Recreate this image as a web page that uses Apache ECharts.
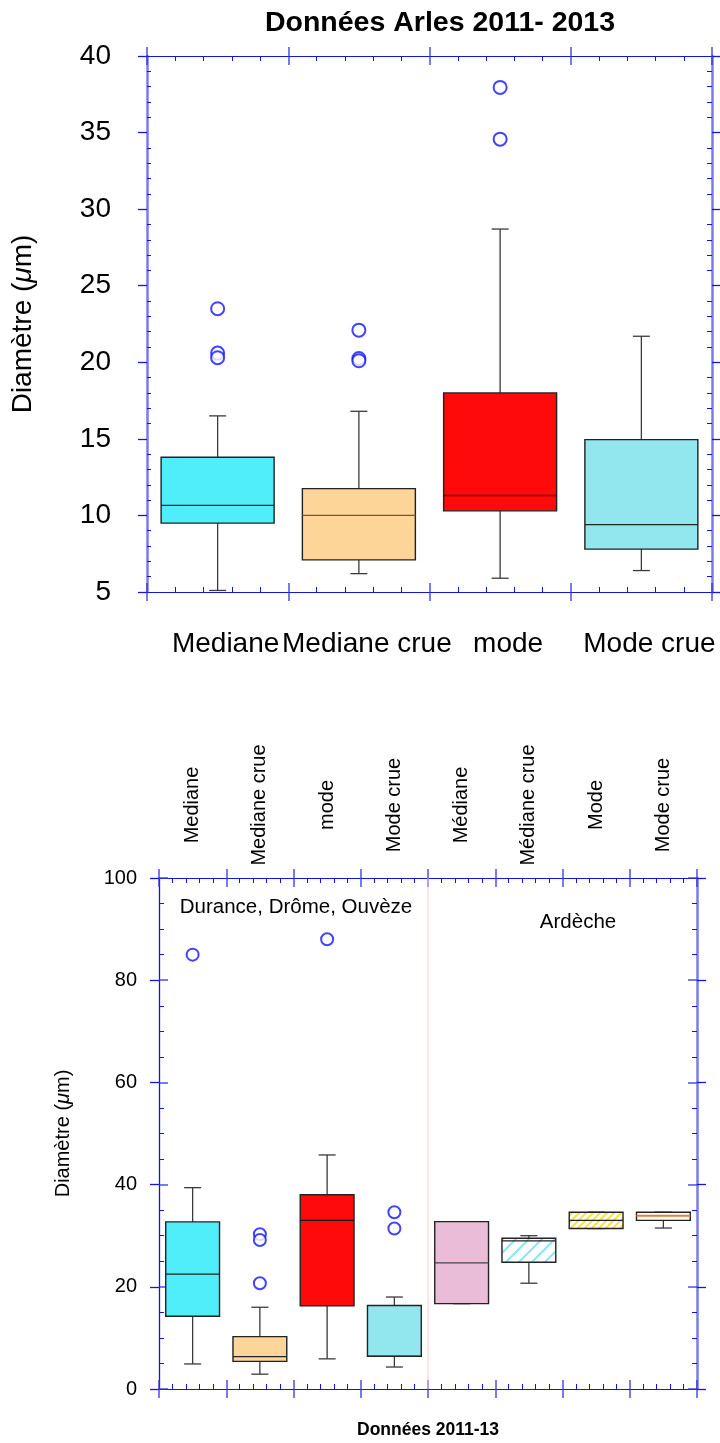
<!DOCTYPE html>
<html>
<head>
<meta charset="utf-8">
<script src="https://cdn.jsdelivr.net/npm/echarts@6/dist/echarts.min.js"></script>
<style>html,body{margin:0;padding:0;background:#fff}#c{width:720px;height:1443px}</style>
</head>
<body>
<div id="c"></div>
<script>
// ---------- data ----------
const topTitle = 'Données Arles 2011- 2013';
const topCategories = ['Mediane', 'Mediane crue', 'mode', 'Mode crue'];
const topMin    = [5.1, 6.2, 5.9, 6.4];
const topQ1     = [9.5, 7.1, 10.3, 7.8];
const topMedian = [10.65, 10.0, 11.3, 9.4];
const topQ3     = [13.8, 11.75, 18.0, 14.95];
const topMax    = [16.5, 16.8, 28.7, 21.7];
const topOutlierCat = [0, 0, 0, 1, 1, 1, 2, 2];
const topOutlierVal = [23.5, 20.6, 20.3, 22.1, 20.25, 20.1, 37.95, 34.57];
const topYTicks = [5, 40, 5]; // min, max, step

const botCategories = ['Mediane', 'Mediane crue', 'mode', 'Mode crue', 'Médiane', 'Médiane crue', 'Mode', 'Mode crue'];
const botMin    = [4.9, 2.9, 5.9, 4.3, 16.7, 20.7, 31.4, 31.5];
const botQ1     = [14.25, 5.4, 16.3, 6.4, 16.7, 24.8, 31.4, 33.0];
const botMedian = [22.5, 6.35, 33.0, 6.4, 24.7, 29.0, 33.0, 33.9];
const botQ3     = [32.7, 10.25, 38.0, 16.35, 32.75, 29.5, 34.6, 34.6];
const botMax    = [39.4, 16.0, 45.8, 18.0, 32.75, 30.0, 34.6, 34.6];
const botOutlierCat = [0, 1, 1, 1, 2, 3, 3];
const botOutlierVal = [85, 30.3, 29.15, 20.7, 88, 34.6, 31.4];
const botYTicks = [0, 100, 20];
const botGroups = ['Durance, Drôme, Ouvèze', 'Ardèche'];
const botXName = 'Données 2011-13';
const yName = 'Diamètre ({i|μ}m)';

// ---------- styles ----------
const FONT = "'Liberation Sans', Arial, Helvetica, sans-serif";
function hatch(color, bg, step, lw) {
  const c = document.createElement('canvas');
  c.width = step; c.height = step;
  const g = c.getContext('2d');
  g.fillStyle = bg; g.fillRect(0, 0, step, step);
  g.strokeStyle = color; g.lineWidth = lw;
  g.beginPath();
  g.moveTo(-1, step + 1); g.lineTo(step + 1, -1);
  g.moveTo(-1, 1); g.lineTo(1, -1);
  g.moveTo(step - 1, step + 1); g.lineTo(step + 1, step - 1);
  g.stroke();
  return { image: c, repeat: 'repeat' };
}
const topFill   = ['#50EEFB', '#FDD598', '#FF0A0A', '#92E6EE'];
const topMedCol = ['#222222', '#6e5a40', '#6a0000', '#222222'];
const botFill   = ['#50EEFB', '#FDD598', '#FF0A0A', '#92E6EE', '#EBBCD7',
                   hatch('#86E8F4', '#ffffff', 13, 2), hatch('#F2E642', '#ffffff', 7, 2), '#ffffff'];
const botMedCol = ['#222222', '#222222', '#111111', '#222222', '#444444', '#222222', '#222222', '#F07830'];

function boxData(mn, q1, md, q3, mx) {
  return mn.map((v, i) => [i, v, q1[i], md[i], q3[i], mx[i]]);
}
function makeRender(fills, medCols) {
  return function (params, api) {
    const i = params.dataIndex;
    const x = api.value(0);
    const pLo = api.coord([x, api.value(1)]);
    const pQ1 = api.coord([x, api.value(2)]);
    const pMd = api.coord([x, api.value(3)]);
    const pQ3 = api.coord([x, api.value(4)]);
    const pHi = api.coord([x, api.value(5)]);
    const band = api.size([1, 0])[0];
    const w = band * 0.8, cx = pMd[0], cap = 8.5;
    const wh = { stroke: '#3a3a3a', lineWidth: 1.3 };
    return {
      type: 'group',
      children: [
        { type: 'line', shape: { x1: cx, y1: pQ3[1], x2: cx, y2: pHi[1] }, style: wh },
        { type: 'line', shape: { x1: cx, y1: pQ1[1], x2: cx, y2: pLo[1] }, style: wh },
        { type: 'line', shape: { x1: cx - cap, y1: pHi[1], x2: cx + cap, y2: pHi[1] }, style: wh },
        { type: 'line', shape: { x1: cx - cap, y1: pLo[1], x2: cx + cap, y2: pLo[1] }, style: wh },
        { type: 'rect', shape: { x: cx - w / 2, y: pQ3[1], width: w, height: pQ1[1] - pQ3[1] },
          style: { fill: fills[i], stroke: '#222', lineWidth: 1.4 } },
        { type: 'line', shape: { x1: cx - w / 2, y1: pMd[1], x2: cx + w / 2, y2: pMd[1] },
          style: { stroke: medCols[i], lineWidth: i === 7 && fills.length === 8 ? 2 : 1.3 } }
      ]
    };
  };
}

const AX = '#1414e0';
const AXL = 'rgba(50,50,225,0.65)';
function tickAxis(extra) {
  return Object.assign({
    type: 'value', axisLabel: { show: false }, splitLine: { show: false },
    axisLine: { show: true, onZero: false, lineStyle: { color: AX, width: 1.2 } },
    axisTick: { show: true, length: 9, lineStyle: { color: AXL, width: 2 } },
    minorTick: { show: true, splitNumber: 5, length: -5, lineStyle: { color: AX, width: 1 } }
  }, extra);
}
// extra axes that only draw the inner half of the major ticks (ticks cross the axis line)
function innerTickAxis(extra, color, width) {
  return Object.assign({
    type: 'value', axisLabel: { show: false }, splitLine: { show: false },
    axisLine: { show: false, onZero: false },
    axisTick: { show: true, inside: true, length: 9, lineStyle: { color: color, width: width } },
    minorTick: { show: false }
  }, extra);
}

const option = {
  animation: false,
  textStyle: { fontFamily: FONT },
  title: {
    text: topTitle, left: 435, top: 4, textAlign: 'center',
    textStyle: { fontFamily: FONT, fontWeight: 'bold', fontSize: 28.5, color: '#000' }
  },
  grid: [
    { left: 147, right: 8, top: 56, bottom: 851, containLabel: false },
    { left: 159, right: 23, top: 878, bottom: 54, containLabel: false }
  ],
  xAxis: [
    { type: 'category', gridIndex: 0, position: 'bottom', data: topCategories,
      axisLine: { show: false, onZero: false }, axisTick: { show: false },
      axisLabel: { fontSize: 28, color: '#000', margin: 38, fontFamily: FONT, interval: 0,
                   padding: [0, 0, 0, 16] } },
    tickAxis({ gridIndex: 0, position: 'bottom', min: 0, max: 4, interval: 1 }),
    tickAxis({ gridIndex: 0, position: 'top', min: 0, max: 4, interval: 1 }),
    { type: 'category', gridIndex: 1, position: 'top', data: botCategories,
      axisLine: { show: false, onZero: false }, axisTick: { show: false },
      axisLabel: { fontSize: 20, color: '#000', rotate: -90, align: 'center', verticalAlign: 'middle',
                   margin: 73, fontFamily: FONT, interval: 0 } },
    tickAxis({ gridIndex: 1, position: 'bottom', min: 0, max: 8, interval: 1,
      name: botXName, nameLocation: 'middle', nameGap: 32,
      nameTextStyle: { fontWeight: 'bold', fontSize: 17.5, color: '#000', fontFamily: FONT } }),
    tickAxis({ gridIndex: 1, position: 'top', min: 0, max: 8, interval: 1 }),
    innerTickAxis({ gridIndex: 0, position: 'bottom', min: 0, max: 4, interval: 1 }, AXL, 2),
    innerTickAxis({ gridIndex: 0, position: 'top', min: 0, max: 4, interval: 1 }, AXL, 2),
    innerTickAxis({ gridIndex: 1, position: 'bottom', min: 0, max: 8, interval: 1 }, AXL, 2),
    innerTickAxis({ gridIndex: 1, position: 'top', min: 0, max: 8, interval: 1 }, AXL, 2)
  ],
  yAxis: [
    { type: 'value', gridIndex: 0, position: 'left', min: topYTicks[0], max: topYTicks[1], interval: topYTicks[2],
      splitLine: { show: false },
      axisLine: { show: true, onZero: false, lineStyle: { color: AXL, width: 2.5 } },
      axisTick: { show: true, length: 9, lineStyle: { color: AX, width: 1.3 } },
      minorTick: { show: true, splitNumber: 5, length: -4, lineStyle: { color: AX, width: 1 } },
      axisLabel: { fontSize: 28, color: '#000', margin: 36, fontFamily: FONT },
      name: yName, nameLocation: 'middle', nameGap: 110,
      nameTextStyle: { fontSize: 28, color: '#000', fontFamily: FONT,
                       rich: { i: { fontStyle: 'italic', fontSize: 28, fontFamily: FONT } } } },
    { type: 'value', gridIndex: 0, position: 'right', min: topYTicks[0], max: topYTicks[1], interval: topYTicks[2],
      splitLine: { show: false }, axisLabel: { show: false },
      axisLine: { show: true, onZero: false, lineStyle: { color: AXL, width: 2.5 } },
      axisTick: { show: true, length: 9, lineStyle: { color: AX, width: 1.3 } },
      minorTick: { show: true, splitNumber: 5, length: -5, lineStyle: { color: AX, width: 1 } } },
    { type: 'value', gridIndex: 1, position: 'left', min: botYTicks[0], max: botYTicks[1], interval: botYTicks[2],
      splitLine: { show: false },
      axisLine: { show: true, onZero: false, lineStyle: { color: AX, width: 1.3 } },
      axisTick: { show: true, length: 9, lineStyle: { color: AX, width: 1.3 } },
      minorTick: { show: true, splitNumber: 4, length: -5, lineStyle: { color: AX, width: 1 } },
      axisLabel: { fontSize: 20, color: '#000', margin: 22, fontFamily: FONT },
      name: yName, nameLocation: 'middle', nameGap: 86,
      nameTextStyle: { fontSize: 20, color: '#000', fontFamily: FONT,
                       rich: { i: { fontStyle: 'italic', fontSize: 20, fontFamily: FONT } } } },
    { type: 'value', gridIndex: 1, position: 'right', min: botYTicks[0], max: botYTicks[1], interval: botYTicks[2],
      splitLine: { show: false }, axisLabel: { show: false },
      axisLine: { show: true, onZero: false, lineStyle: { color: AXL, width: 2.5 } },
      axisTick: { show: true, length: 9, lineStyle: { color: AX, width: 1.3 } },
      minorTick: { show: true, splitNumber: 4, length: -5, lineStyle: { color: AX, width: 1 } } },
    innerTickAxis({ gridIndex: 1, position: 'left', min: botYTicks[0], max: botYTicks[1], interval: botYTicks[2] }, AXL, 2),
    innerTickAxis({ gridIndex: 1, position: 'right', min: botYTicks[0], max: botYTicks[1], interval: botYTicks[2] }, AXL, 2)
  ],
  graphic: [
    { type: 'text', x: 296, y: 907, style: { text: botGroups[0], font: '20.5px ' + FONT, fill: '#000',
      textAlign: 'center', textVerticalAlign: 'middle' } },
    { type: 'text', x: 578, y: 922, style: { text: botGroups[1], font: '20.5px ' + FONT, fill: '#000',
      textAlign: 'center', textVerticalAlign: 'middle' } }
  ],
  series: [
    { type: 'custom', xAxisIndex: 0, yAxisIndex: 0, renderItem: makeRender(topFill, topMedCol),
      encode: { x: 0, y: [1, 2, 3, 4, 5] }, data: boxData(topMin, topQ1, topMedian, topQ3, topMax), z: 3 },
    { type: 'scatter', xAxisIndex: 0, yAxisIndex: 0, symbol: 'emptyCircle', symbolSize: 13,
      itemStyle: { color: '#1414ff', borderWidth: 1.3 },
      data: topOutlierCat.map((c, i) => [c, topOutlierVal[i]]), z: 4 },
    { type: 'line', xAxisIndex: 4, yAxisIndex: 2, symbol: 'none', silent: true,
      lineStyle: { color: '#ffc4c4', width: 1 }, data: [[4, botYTicks[0]], [4, botYTicks[1]]], z: 1 },
    { type: 'custom', xAxisIndex: 3, yAxisIndex: 2, renderItem: makeRender(botFill, botMedCol),
      encode: { x: 0, y: [1, 2, 3, 4, 5] }, data: boxData(botMin, botQ1, botMedian, botQ3, botMax), z: 3 },
    { type: 'scatter', xAxisIndex: 3, yAxisIndex: 2, symbol: 'emptyCircle', symbolSize: 12,
      itemStyle: { color: '#1414ff', borderWidth: 1.3 },
      data: botOutlierCat.map((c, i) => [c, botOutlierVal[i]]), z: 4 }
  ]
};
const chart = echarts.init(document.getElementById('c'), null, { renderer: 'canvas' });
chart.setOption(option);
</script>
</body>
</html>
